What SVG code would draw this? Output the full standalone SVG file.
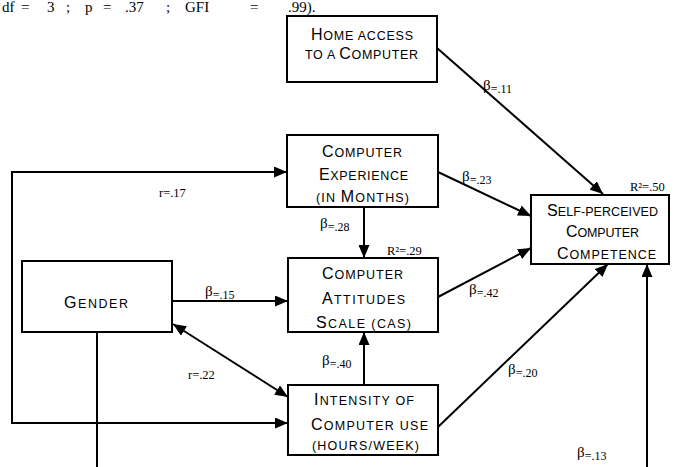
<svg xmlns="http://www.w3.org/2000/svg" width="674" height="467" viewBox="0 0 674 467">
<defs>
<style>
.box{fill:#fff;stroke:#000;stroke-width:2}
.t{font-family:"Liberation Sans",Arial,sans-serif;font-size:12.5px;fill:#000}
.big{font-size:16px}
.c{fill:none;stroke:#000;stroke-width:2}
.lb{font-family:"Liberation Serif","Times New Roman",serif;font-size:15px;fill:#000}
.sm{font-size:12px}
.r{font-size:12.5px}
</style>
<marker id="ah" viewBox="0 0 13 11" refX="13" refY="5.5" markerWidth="13" markerHeight="11" markerUnits="userSpaceOnUse" orient="auto-start-reverse">
<path d="M0,0 L13,5.5 L0,11 z" fill="#000"/>
</marker>
</defs>
<rect width="674" height="467" fill="#fff"/>
<text class="lb" style="font-size:15px" y="12"><tspan x="2">df</tspan><tspan x="21">=</tspan><tspan x="47">3</tspan><tspan x="66">;</tspan><tspan x="85">p</tspan><tspan x="103">=</tspan><tspan x="125">.37</tspan><tspan x="166">;</tspan><tspan x="185">GFI</tspan><tspan x="250">=</tspan><tspan x="288">.99).</tspan></text>
<g id="connectors">
<line class="c" x1="437" y1="48" x2="603" y2="194" marker-end="url(#ah)"/>
<line class="c" x1="438" y1="172" x2="531" y2="216" marker-end="url(#ah)"/>
<line class="c" x1="438" y1="297" x2="531" y2="248" marker-end="url(#ah)"/>
<line class="c" x1="438" y1="427" x2="608" y2="264" marker-end="url(#ah)"/>
<line class="c" x1="647" y1="467" x2="647" y2="264" marker-end="url(#ah)"/>
<line class="c" x1="364" y1="207" x2="364" y2="258" marker-end="url(#ah)"/>
<line class="c" x1="364" y1="385" x2="364" y2="332" marker-end="url(#ah)"/>
<line class="c" x1="172" y1="301" x2="288" y2="301" marker-end="url(#ah)"/>
<line class="c" x1="173" y1="324" x2="288" y2="397" marker-start="url(#ah)" marker-end="url(#ah)"/>
<path class="c" d="M12,300 V172 H287" marker-end="url(#ah)"/>
<path class="c" d="M12,300 V423 H288" marker-end="url(#ah)"/>
<line class="c" x1="97" y1="332" x2="97" y2="467"/>
</g>
<g id="labels">
<text class="lb" x="483" y="90">β<tspan class="sm" dy="3">=.11</tspan></text>
<text class="lb" x="462" y="181">β<tspan class="sm" dy="3">=.23</tspan></text>
<text class="lb" x="320" y="228">β<tspan class="sm" dy="3">=.28</tspan></text>
<text class="lb" x="469" y="294">β<tspan class="sm" dy="3">=.42</tspan></text>
<text class="lb" x="205" y="296">β<tspan class="sm" dy="3">=.15</tspan></text>
<text class="lb" x="322" y="365">β<tspan class="sm" dy="3">=.40</tspan></text>
<text class="lb" x="508" y="374">β<tspan class="sm" dy="3">=.20</tspan></text>
<text class="lb" x="577" y="457">β<tspan class="sm" dy="3">=.13</tspan></text>
<text class="lb r" x="188" y="379">r=.22</text>
<text class="lb r" x="159" y="197">r=.17</text>
<text class="lb r" x="387" y="255">R²=.29</text>
<text class="lb r" x="630" y="191">R²=.50</text>
</g>
<g id="home">
<rect class="box" x="287" y="16" width="150" height="66"/>
<text class="t" x="311" y="40" textLength="102" lengthAdjust="spacing"><tspan class="big">H</tspan>OME ACCESS</text>
<text class="t" x="305" y="59" textLength="113" lengthAdjust="spacing">TO A <tspan class="big">C</tspan>OMPUTER</text>
</g>
<g id="experience">
<rect class="box" x="287" y="135" width="151" height="72"/>
<text class="t" x="322" y="157" textLength="80" lengthAdjust="spacing"><tspan class="big">C</tspan>OMPUTER</text>
<text class="t" x="319" y="180" textLength="89" lengthAdjust="spacing"><tspan class="big">E</tspan>XPERIENCE</text>
<text class="t" x="316" y="202" textLength="93" lengthAdjust="spacing">(IN <tspan class="big">M</tspan>ONTHS)</text>
</g>
<g id="gender">
<rect class="box" x="22" y="261" width="150" height="71"/>
<text class="t" x="64" y="308" textLength="64" lengthAdjust="spacing"><tspan class="big">G</tspan>ENDER</text>
</g>
<g id="cas">
<rect class="box" x="288" y="258" width="150" height="74"/>
<text class="t" x="322" y="279" textLength="81" lengthAdjust="spacing"><tspan class="big">C</tspan>OMPUTER</text>
<text class="t" x="322" y="304" textLength="83" lengthAdjust="spacing"><tspan class="big">A</tspan>TTITUDES</text>
<text class="t" x="316" y="328" textLength="95" lengthAdjust="spacing"><tspan class="big">S</tspan>CALE (CAS)</text>
</g>
<g id="intensity">
<rect class="box" x="288" y="385" width="150" height="70"/>
<text class="t" x="314" y="405" textLength="100" lengthAdjust="spacing"><tspan class="big">I</tspan>NTENSITY OF</text>
<text class="t" x="311" y="430" textLength="117" lengthAdjust="spacing"><tspan class="big">C</tspan>OMPUTER USE</text>
<text class="t" x="312" y="450" textLength="107" lengthAdjust="spacing">(HOURS/WEEK)</text>
</g>
<g id="selfcomp">
<rect class="box" x="531" y="195" width="138" height="69"/>
<text class="t" x="547" y="216" textLength="111" lengthAdjust="spacing"><tspan class="big">S</tspan>ELF-PERCEIVED</text>
<text class="t" x="566" y="237" textLength="73" lengthAdjust="spacing"><tspan class="big">C</tspan>OMPUTER</text>
<text class="t" x="557" y="259" textLength="99" lengthAdjust="spacing"><tspan class="big">C</tspan>OMPETENCE</text>
</g>
</svg>
